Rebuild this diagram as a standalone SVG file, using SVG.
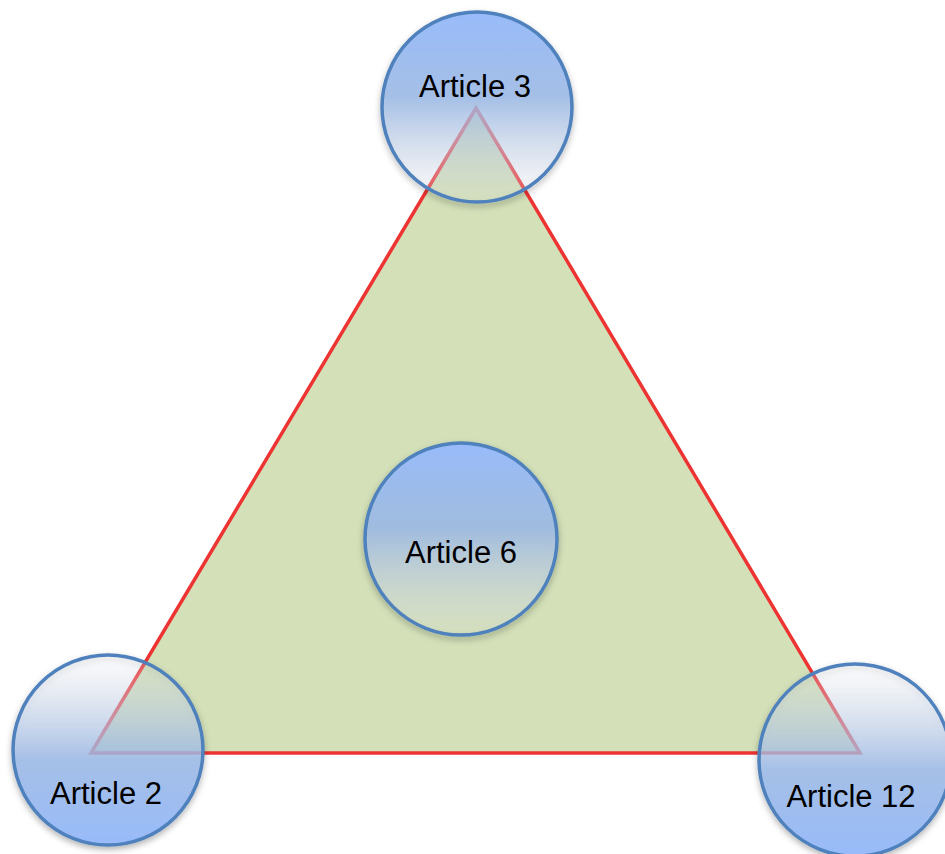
<svg xmlns="http://www.w3.org/2000/svg" width="945" height="854" viewBox="0 0 945 854">
<defs>
<linearGradient id="gDown" x1="0" y1="0" x2="0" y2="1">
<stop offset="0" stop-color="#98bbfa" stop-opacity="1"/>
<stop offset="0.45" stop-color="#9dbbe8" stop-opacity="0.85"/>
<stop offset="1" stop-color="#f4f6fb" stop-opacity="0.1"/>
</linearGradient>
<linearGradient id="gUp" x1="0" y1="1" x2="0" y2="0">
<stop offset="0" stop-color="#98bbfa" stop-opacity="1"/>
<stop offset="0.45" stop-color="#9dbbe8" stop-opacity="0.85"/>
<stop offset="1" stop-color="#f4f6fb" stop-opacity="0.1"/>
</linearGradient>
<filter id="sh" x="-20%" y="-20%" width="140%" height="150%">
<feDropShadow dx="0" dy="3" stdDeviation="3" flood-color="#000000" flood-opacity="0.3"/>
</filter>
</defs>
<style>
.node circle{stroke:#4f81bd;stroke-width:3.5;filter:url(#sh)}
.node text{font-family:"Liberation Sans",Arial,sans-serif;font-size:31px;fill:#000000;text-anchor:middle}
</style>
<g id="connectors">
<polygon points="476,108 91,753 860,753" fill="#d3e0b8" stroke="#ee3333" stroke-width="3.5" stroke-linejoin="miter"/>
</g>
<g id="article3" class="node">
<circle cx="477" cy="107" r="95" fill="url(#gDown)"/>
<text x="475" y="97">Article 3</text>
</g>
<g id="article6" class="node">
<circle cx="461" cy="539" r="96" fill="url(#gDown)"/>
<text x="461" y="563">Article 6</text>
</g>
<g id="article2" class="node">
<circle cx="108" cy="750" r="95" fill="url(#gUp)"/>
<text x="106" y="804">Article 2</text>
</g>
<g id="article12" class="node">
<circle cx="855" cy="760" r="96" fill="url(#gUp)"/>
<text x="851" y="807">Article 12</text>
</g>
</svg>
